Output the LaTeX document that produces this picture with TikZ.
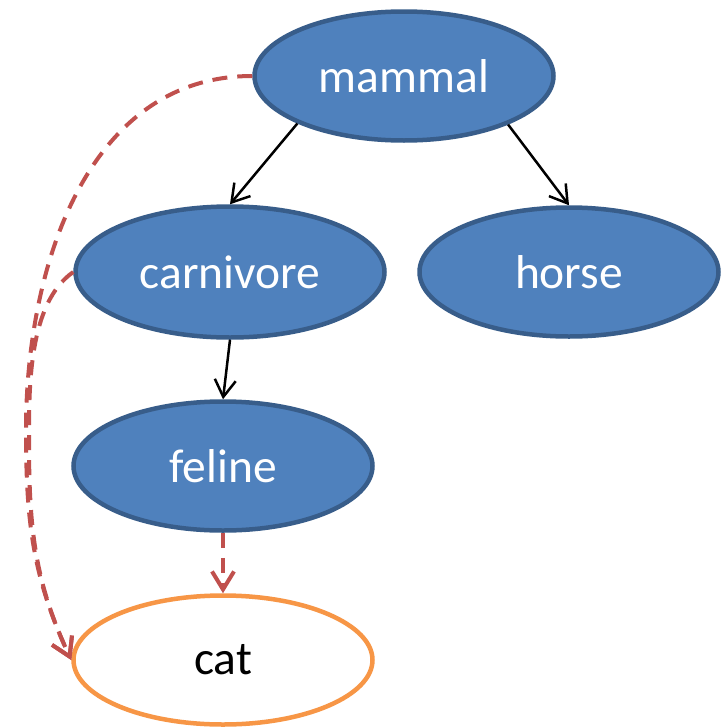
\documentclass[tikz,border=0pt]{standalone}
\usepackage{fontspec}
\setmainfont{Carlito}
\usepackage{xcolor}
\usepackage{tikz}
\usetikzlibrary{shapes.geometric,arrows.meta}
\definecolor{conceptfill}{HTML}{4F81BD}
\definecolor{conceptline}{HTML}{385D8A}
\definecolor{instline}{HTML}{F79646}
\definecolor{linkred}{HTML}{C0504D}
\newcommand{\isa}{[-{Straight Barb[length=17pt,width=21pt]}, line width=2.5pt, black]}
\newcommand{\instof}{[-{Straight Barb[length=18pt,width=22pt]}, line width=4pt, linkred, dash pattern=on 15pt off 10pt]}
\tikzset{concept/.style={ellipse, draw=conceptline, fill=conceptfill, line width=4.5pt, text=white, minimum width=299pt, minimum height=129pt, inner sep=0pt, font=\fontsize{47.5}{56}\selectfont},
	instance/.style={concept, draw=instline, fill=white, text=black}}

\begin{document}
\begin{tikzpicture}[x=1pt,y=-1pt]
				\useasboundingbox (0,0) rectangle (724,728);
				\node [concept] (mammal) at (404,76) {mammal};
				\node [concept, minimum width=309pt, minimum height=131pt] (carnivore) at (230,272) {carnivore};
				\node [concept] (horse) at (569,272) {horse};
				\node [concept] (feline) at (223,466) {feline};
				\node [instance] (cat) at (223,660) {cat};
				\draw \isa (mammal.204) -- (carnivore.north);
				\draw \isa (mammal.-25) -- (horse.north);
				\draw \isa (carnivore.south) -- (feline.north);
				\draw \instof (feline.south) -- (cat.north);
				\draw \instof (mammal.west) to [out=180,in=90] (26,430) to [out=270,in=115] (cat.west);
				\draw \instof (carnivore.west) to [out=215,in=90,looseness=.8] (29,440) to [out=270,in=115] (cat.west);
			\end{tikzpicture}
\end{document}
